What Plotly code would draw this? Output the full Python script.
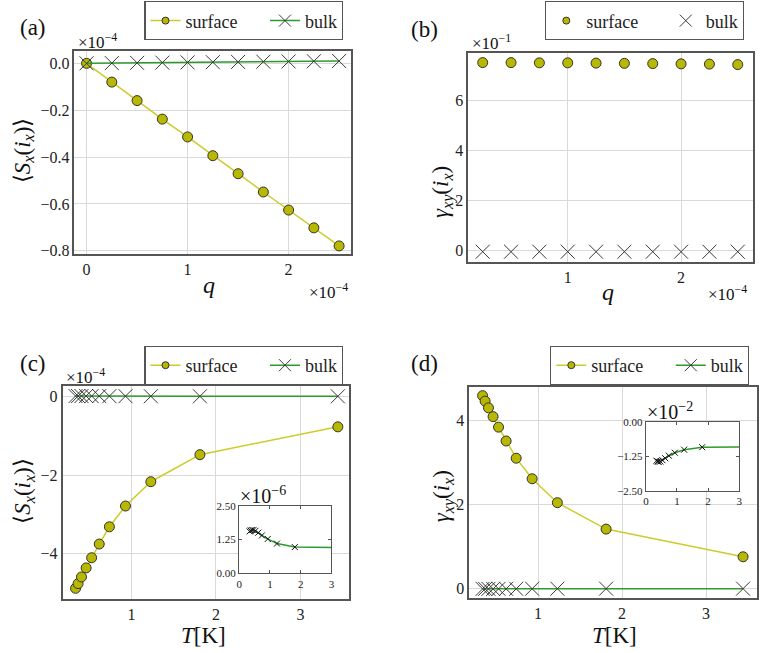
import plotly.graph_objects as go

# ---- data ----
q_a = [0.0, 0.25, 0.5, 0.75, 1.0, 1.25, 1.5, 1.75, 2.0, 2.25, 2.5]          # x1e-4
sx_surface_a = [0.0, -0.080, -0.159, -0.238, -0.314, -0.394, -0.471, -0.549, -0.626, -0.702, -0.779]  # x1e-4
sx_bulk_a = [0.0, 0.001, 0.002, 0.003, 0.004, 0.005, 0.006, 0.007, 0.008, 0.009, 0.010]             # x1e-4

q_b = [0.25, 0.5, 0.75, 1.0, 1.25, 1.5, 1.75, 2.0, 2.25, 2.5]                 # x1e-4
gamma_surface_b = [7.52, 7.52, 7.51, 7.51, 7.50, 7.49, 7.48, 7.47, 7.46, 7.44]  # x1e-1
gamma_bulk_b = [-0.05, -0.05, -0.05, -0.05, -0.05, -0.05, -0.05, -0.05, -0.05, -0.05]

T = [0.34, 0.37, 0.41, 0.465, 0.53, 0.62, 0.74, 0.93, 1.23, 1.81, 3.44]
sx_surface_c = [-4.89, -4.77, -4.60, -4.37, -4.11, -3.76, -3.32, -2.79, -2.17, -1.48, -0.77]  # x1e-4
sx_bulk_c = [1.55, 1.58, 1.60, 1.60, 1.57, 1.50, 1.40, 1.27, 1.10, 0.97, 0.95]               # x1e-6
gamma_surface_d = [4.59, 4.46, 4.30, 4.09, 3.84, 3.51, 3.10, 2.61, 2.04, 1.41, 0.75]
gamma_bulk_d = [-1.40, -1.43, -1.44, -1.43, -1.38, -1.31, -1.22, -1.11, -1.00, -0.91, -0.90]  # x1e-2

W, H = 763, 653
FONT = "Liberation Serif, Times New Roman, serif"
YEL_LINE = "#cccc2a"
YEL_FILL = "#b8b800"
GREEN = "#2e9a2e"
XCOL = "#3a3a3a"
NB = "\u00a0"


def px_x(a, b):
    return [a / W, b / W]


def px_y(top, bottom):
    return [1 - bottom / H, 1 - top / H]


surf_marker = dict(symbol="circle", size=10, color=YEL_FILL, line=dict(color="#333", width=1))
bulk_marker = dict(symbol="x-thin", size=14, color=XCOL, line=dict(color=XCOL, width=1))
small_x = dict(symbol="x-thin", size=6, color="#111", line=dict(color="#111", width=1))
leg_surf = dict(symbol="circle", size=7, color=YEL_FILL, line=dict(color="#333", width=1))
leg_bulk = dict(symbol="x-thin", size=12, color=XCOL, line=dict(color=XCOL, width=1))

fig = go.Figure()


def add_panel(xs, ys_s, ys_b, ax, leg, lines=True):
    mode = "lines+markers" if lines else "markers"
    fig.add_trace(go.Scatter(x=xs, y=ys_s, mode=mode, showlegend=False,
                             line=dict(color=YEL_LINE, width=1.5), marker=surf_marker,
                             xaxis="x" + ax, yaxis="y" + ax))
    fig.add_trace(go.Scatter(x=xs, y=ys_b, mode=mode, showlegend=False,
                             line=dict(color=GREEN, width=1.5), marker=bulk_marker,
                             xaxis="x" + ax, yaxis="y" + ax))
    # legend-only entries (smaller symbols, like the reference legend)
    fig.add_trace(go.Scatter(x=[None], y=[None], mode=mode, name="surface" + NB * 5,
                             line=dict(color=YEL_LINE, width=1.5), marker=leg_surf,
                             xaxis="x" + ax, yaxis="y" + ax, legend=leg))
    fig.add_trace(go.Scatter(x=[None], y=[None], mode=mode, name="bulk",
                             line=dict(color=GREEN, width=1.5), marker=leg_bulk,
                             xaxis="x" + ax, yaxis="y" + ax, legend=leg))


add_panel(q_a, sx_surface_a, sx_bulk_a, "", "legend")
add_panel(q_b, gamma_surface_b, gamma_bulk_b, "2", "legend2", lines=False)
add_panel(T, sx_surface_c, [v * 0.01 for v in sx_bulk_c], "3", "legend3")
add_panel(T, gamma_surface_d, [v * 0.01 for v in gamma_bulk_d], "4", "legend4")

# insets
fig.add_trace(go.Scatter(x=T, y=sx_bulk_c, mode="lines+markers", showlegend=False,
                         line=dict(color=GREEN, width=1.5), marker=small_x,
                         xaxis="x5", yaxis="y5"))
fig.add_trace(go.Scatter(x=T, y=gamma_bulk_d, mode="lines+markers", showlegend=False,
                         line=dict(color=GREEN, width=1.5), marker=small_x,
                         xaxis="x6", yaxis="y6"))


def main_axis(domain, rng, ticks, anchor, fmt=None):
    d = dict(domain=domain, range=rng, tickvals=ticks, anchor=anchor,
             showgrid=True, gridcolor="#d9d9d9", gridwidth=1, zeroline=False,
             showline=True, mirror=True, linecolor="#555", linewidth=1.5,
             ticks="", tickfont=dict(family=FONT, size=16, color="#222"))
    if fmt:
        d["tickformat"] = fmt
    return d


def inset_axis(domain, rng, ticks, anchor, fmt=None):
    d = dict(domain=domain, range=rng, tickvals=ticks, anchor=anchor,
             showgrid=False, zeroline=False, showline=True, mirror="ticks",
             linecolor="#555", linewidth=1.2, ticks="inside", ticklen=3,
             tickcolor="#555", tickfont=dict(family=FONT, size=11, color="#222"))
    if fmt:
        d["tickformat"] = fmt
    return d


fig.update_layout(
    xaxis=main_axis(px_x(72, 351), [-0.12, 2.62], [0, 1, 2], "y"),
    yaxis=main_axis(px_y(46, 253), [-0.815, 0.052], [-0.8, -0.6, -0.4, -0.2, 0.0], "x", ".1f"),
    xaxis2=main_axis(px_x(469, 756), [0.123, 2.635], [1, 2], "y2"),
    yaxis2=main_axis(px_y(48, 261), [-0.47, 7.9], [0, 2, 4, 6], "x2"),
    xaxis3=main_axis(px_x(60, 349), [0.186, 3.575], [1, 2, 3], "y3"),
    yaxis3=main_axis(px_y(387, 604), [-5.16, 0.275], [-4, -2, 0], "x3"),
    xaxis4=main_axis(px_x(470, 760), [0.182, 3.606], [1, 2, 3], "y4"),
    yaxis4=main_axis(px_y(388, 603), [-0.23, 4.80], [0, 2, 4], "x4"),
    xaxis5=inset_axis(px_x(238, 331), [0, 3], [0, 1, 2, 3], "y5"),
    yaxis5=inset_axis(px_y(509, 578), [0, 2.5], [0, 1.25, 2.5], "x5", ".2f"),
    xaxis6=inset_axis(px_x(648, 742), [0, 3], [0, 1, 2, 3], "y6"),
    yaxis6=inset_axis(px_y(424, 494), [-2.5, 0], [-2.5, -1.25, 0], "x6", ".2f"),
    width=W, height=H,
    margin=dict(l=0, r=0, t=0, b=0),
    paper_bgcolor="white", plot_bgcolor="white",
    font=dict(family=FONT, color="#222"),
)

leg_common = dict(orientation="h", xanchor="right", yanchor="middle",
                  bgcolor="white", bordercolor="#555", borderwidth=1.2,
                  font=dict(family=FONT, size=18, color="#222"), itemwidth=30)
fig.update_layout(
    legend=dict(x=343 / W, y=1 - 15 / H, **leg_common),
    legend2=dict(x=747 / W, y=1 - 15 / H, **leg_common),
    legend3=dict(x=343 / W, y=1 - 366 / H, **leg_common),
    legend4=dict(x=752 / W, y=1 - 366 / H, **leg_common),
)


def note(text, x, y, size, angle=0, xanchor="center", yanchor="middle"):
    fig.add_annotation(text=text, x=x / W, y=1 - y / H, xref="paper", yref="paper",
                       showarrow=False, textangle=angle, xanchor=xanchor, yanchor=yanchor,
                       font=dict(family=FONT, size=size, color="#111"))


# panel labels
note("(a)", 30, 22, 23)
note("(b)", 425, 24, 23)
note("(c)", 30, 364, 23)
note("(d)", 425, 364, 23)

# axis titles
sx_title = "⟨<i>S<sub>x</sub></i>(<i>i<sub>x</sub></i>)⟩"
gm_title = "<i>γ<sub>xy</sub></i>(<i>i<sub>x</sub></i>)"
note(sx_title, 21, 147, 23, angle=-90)
note(gm_title, 443, 190, 23, angle=-90)
note(sx_title, 21, 494, 23, angle=-90)
note(gm_title, 444, 500, 23, angle=-90)
note("<i>q</i>", 208, 284, 24)
note("<i>q</i>", 610, 291, 24)
note("<i>T</i>[K]", 202, 641, 23)
note("<i>T</i>[K]", 616, 641, 23)

# scale multipliers
note("×10<sup>−4</sup>", 95, 36, 17)
note("×10<sup>−1</sup>", 492, 37, 17)
note("×10<sup>−4</sup>", 83, 377, 17)
note("×10<sup>−4</sup>", 328, 290, 17)
note("×10<sup>−4</sup>", 730, 292, 17)
note("×10<sup>−6</sup>", 262, 498, 20)
note("×10<sup>−2</sup>", 672, 413, 20)

fig.write_html("out.html", config={"displayModeBar": False},
               post_script="document.body.style.margin='0px';")
